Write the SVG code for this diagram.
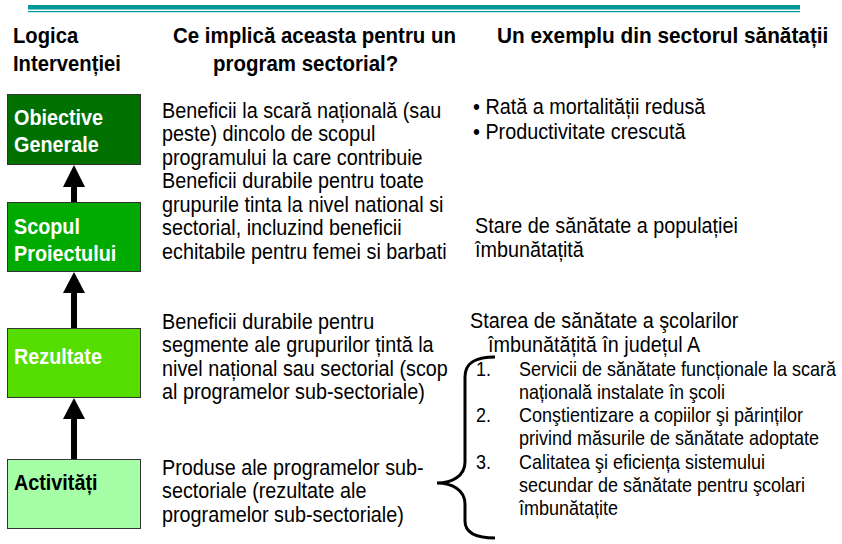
<svg xmlns="http://www.w3.org/2000/svg" width="842" height="544" viewBox="0 0 842 544">
<defs>
<style>
text{font-family:"Liberation Sans",Arial,sans-serif;fill:#000}
.h{font-size:22px;font-weight:bold}
.b{font-size:22px}
.s{font-size:20px}
.bt{font-size:22px;font-weight:bold;fill:#fff}
.box{stroke:#333;stroke-width:1}
.conn{fill:none;stroke:#000;stroke-width:6}
.head{fill:#000}
</style>
</defs>
<rect width="842" height="544" fill="#fff"/>
<g id="topline">
<rect x="28" y="5" width="772" height="4.5" fill="#009999"/>
<rect x="28" y="11" width="772" height="1.2" fill="#009999"/>
</g>
<g id="headers">
<text class="h" transform="translate(13 43) scale(.92 1)">Logica</text>
<text class="h" transform="translate(13 71) scale(.92 1)">Intervenției</text>
<text class="h" transform="translate(173 43) scale(.93 1)">Ce implică aceasta pentru un</text>
<text class="h" transform="translate(213 71) scale(.93 1)">program sectorial?</text>
<text class="h" transform="translate(497 43) scale(.945 1)">Un exemplu din sectorul sănătații</text>
</g>
<g id="connectors">
<path class="conn" d="M74,202 V185"/>
<path class="head" d="M63,187 L74,165 L85,187 Z"/>
<path class="conn" d="M74,328 V291"/>
<path class="head" d="M63,293 L74,272 L85,293 Z"/>
<path class="conn" d="M74,459 V417"/>
<path class="head" d="M63,419 L74,398 L85,419 Z"/>
</g>
<g id="obiective">
<rect class="box" x="7.5" y="94.5" width="133" height="70" fill="#007000"/>
<text class="bt" transform="translate(14 125) scale(.9 1)">Obiective</text>
<text class="bt" transform="translate(14 152) scale(.9 1)">Generale</text>
</g>
<g id="scopul">
<rect class="box" x="7.5" y="202.5" width="133" height="69" fill="#00AA00"/>
<text class="bt" transform="translate(14 234) scale(.9 1)">Scopul</text>
<text class="bt" transform="translate(14 261) scale(.9 1)">Proiectului</text>
</g>
<g id="rezultate">
<rect class="box" x="7.5" y="328.5" width="133" height="69" fill="#55DD00"/>
<text class="bt" transform="translate(14 364) scale(.9 1)">Rezultate</text>
</g>
<g id="activitati">
<rect class="box" x="7.5" y="459.5" width="133" height="69" fill="#A6FFA6"/>
<text class="h" transform="translate(14 490) scale(.9 1)">Activități</text>
</g>
<g id="middle-text">
<text class="b" transform="translate(162 118) scale(.9 1)">Beneficii la scară națională (sau</text>
<text class="b" transform="translate(162 141) scale(.9 1)">peste) dincolo de scopul</text>
<text class="b" transform="translate(162 165) scale(.9 1)">programului la care contribuie</text>
<text class="b" transform="translate(162 188) scale(.9 1)">Beneficii durabile pentru toate</text>
<text class="b" transform="translate(162 212) scale(.9 1)">grupurile tinta la nivel national si</text>
<text class="b" transform="translate(162 235) scale(.9 1)">sectorial, incluzind beneficii</text>
<text class="b" transform="translate(162 259) scale(.9 1)">echitabile pentru femei si barbati</text>
<text class="b" transform="translate(162 329) scale(.9 1)">Beneficii durabile pentru</text>
<text class="b" transform="translate(162 352) scale(.9 1)">segmente ale grupurilor țintă la</text>
<text class="b" transform="translate(162 376) scale(.9 1)">nivel național sau sectorial  (scop</text>
<text class="b" transform="translate(162 399) scale(.9 1)">al programelor sub-sectoriale)</text>
<text class="b" transform="translate(162 475) scale(.9 1)">Produse ale programelor sub-</text>
<text class="b" transform="translate(162 498) scale(.9 1)">sectoriale (rezultate ale</text>
<text class="b" transform="translate(162 522) scale(.9 1)">programelor sub-sectoriale)</text>
</g>
<g id="right-text">
<text class="b" transform="translate(473 114) scale(.9 1)">• Rată a mortalității redusă</text>
<text class="b" transform="translate(473 139) scale(.9 1)">• Productivitate crescută</text>
<text class="b" transform="translate(475 233) scale(.9 1)">Stare de sănătate a populației</text>
<text class="b" transform="translate(475 257) scale(.9 1)">îmbunătațită</text>
<text class="b" transform="translate(470 328) scale(.9 1)">Starea de sănătate a şcolarilor</text>
<text class="b" transform="translate(488 352) scale(.9 1)">îmbunătățită în județul A</text>
<text class="s" transform="translate(476 376) scale(.9 1)">1.</text>
<text class="s" transform="translate(519 376) scale(.9 1)">Servicii de sănătate funcționale la scară</text>
<text class="s" transform="translate(519 399) scale(.9 1)">națională instalate în şcoli</text>
<text class="s" transform="translate(476 422) scale(.9 1)">2.</text>
<text class="s" transform="translate(519 422) scale(.9 1)">Conştientizare a copiilor şi părinților</text>
<text class="s" transform="translate(519 445) scale(.9 1)">privind măsurile de sănătate adoptate</text>
<text class="s" transform="translate(476 469) scale(.9 1)">3.</text>
<text class="s" transform="translate(519 469) scale(.9 1)">Calitatea şi eficiența sistemului</text>
<text class="s" transform="translate(519 492) scale(.9 1)">secundar de sănătate pentru şcolari</text>
<text class="s" transform="translate(519 515) scale(.9 1)">îmbunătațite</text>
</g>
<g id="brace">
<path d="M495,357 C478,357 465,361 465,377 L465,462 C465,476 452,483 437,483 C452,483 465,490 465,504 L465,521 C465,534 478,538 495,538" fill="none" stroke="#000" stroke-width="3"/>
</g>
</svg>
